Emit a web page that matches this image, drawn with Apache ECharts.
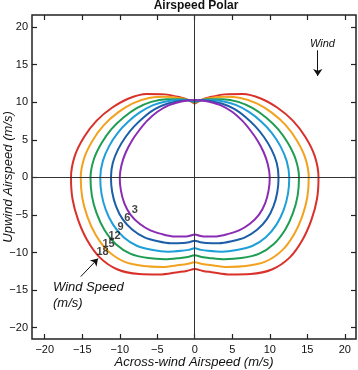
<!DOCTYPE html>
<html>
<head>
<meta charset="utf-8">
<script src="https://cdn.jsdelivr.net/npm/echarts@6/dist/echarts.min.js"></script>
<style>
  html, body { margin: 0; padding: 0; background: #fff; }
  #chart { width: 358px; height: 370px; }
</style>
</head>
<body>
<div id="chart"></div>
<script>
// wind speeds (m/s) and the colour of each curve
var windSpeeds = [3, 6, 9, 12, 15, 18];
var colors = ["#8a2cb4", "#1c5ea8", "#1f9fd9", "#1f9d52", "#f3a21f", "#d9312a"];

// polar reading of each curve: angle from the upwind axis (deg), airspeed (m/s)
var angles = [0, 5, 10, 20, 30, 40, 50, 60, 70, 80, 90, 100, 110, 120, 130, 140, 150, 160, 170, 175, 180];
var r3  = [10.3, 10.28, 10.25, 10.2, 10.05, 9.85, 9.7, 9.7, 9.78, 9.9, 10.0, 10.0, 10.0, 9.9, 9.6, 9.2, 8.72, 8.36, 8.0, 7.8, 7.6];
var r6  = [10.21, 10.29, 10.35, 10.45, 10.52, 10.5, 10.55, 10.68, 10.88, 11.1, 11.17, 11.18, 11.18, 11.11, 10.85, 10.42, 9.82, 9.33, 8.86, 8.65, 8.43];
var r9  = [10.1, 10.31, 10.46, 10.78, 11.1, 11.32, 11.55, 11.85, 12.15, 12.45, 12.6, 12.62, 12.62, 12.58, 12.38, 11.92, 11.17, 10.52, 9.92, 9.68, 9.44];
var r12 = [10.0, 10.32, 10.56, 11.06, 11.6, 12.03, 12.4, 12.83, 13.24, 13.67, 13.9, 13.93, 13.93, 13.92, 13.77, 13.28, 12.4, 11.59, 10.88, 10.62, 10.36];
var r15 = [9.9, 10.34, 10.68, 11.41, 12.2, 12.86, 13.4, 13.96, 14.47, 14.96, 15.2, 15.24, 15.24, 15.26, 15.16, 14.64, 13.62, 12.67, 11.84, 11.56, 11.28];
var r18 = [9.8, 10.35, 10.8, 11.75, 12.8, 13.7, 14.4, 15.1, 15.7, 16.25, 16.5, 16.55, 16.55, 16.6, 16.55, 16.0, 14.85, 13.75, 12.8, 12.5, 12.2];
var radii = [r3, r6, r9, r12, r15, r18];

var tickValues = [-20, -15, -10, -5, 0, 5, 10, 15, 20];

// where the wind speed numbers sit on the curves
var labelSpots = [[-8.0, -4.4], [-9.0, -5.45], [-9.9, -6.6], [-10.7, -7.75], [-11.5, -8.9], [-12.3, -9.95]];

var FONT = "Liberation Sans";

// closed loop: right half top->bottom, then mirrored left half bottom->top
function curve(r) {
  var pts = [];
  for (var i = 0; i < angles.length; i++) {
    var a = angles[i] * Math.PI / 180;
    pts.push([r[i] * Math.sin(a), r[i] * Math.cos(a)]);
  }
  for (var j = angles.length - 1; j >= 0; j--) {
    var b = angles[j] * Math.PI / 180;
    pts.push([-r[j] * Math.sin(b), r[j] * Math.cos(b)]);
  }
  return pts;
}

function minus(v) {
  return String(v).replace("-", "\u2212");
}

var chartDom = document.getElementById("chart");
var myChart = echarts.init(chartDom);
var option;

var series = [];
for (var k = windSpeeds.length - 1; k >= 0; k--) {
  series.push({
    name: String(windSpeeds[k]),
    type: "line",
    data: curve(radii[k]),
    smooth: 0.3,
    showSymbol: false,
    lineStyle: { color: colors[k], width: 2 },
    z: 3,
  });
}

// zero lines and arrows
series.push({
  type: "line",
  data: [],
  markLine: {
    silent: true,
    symbol: "none",
    label: { show: false },
    lineStyle: { color: "#333", width: 1, type: "solid" },
    data: [{ xAxis: 0 }, { yAxis: 0 }],
  },
  z: 2,
});
series.push({
  type: "line",
  data: [],
  markLine: {
    silent: true,
    symbol: ["none", "arrow"],
    symbolSize: 7,
    label: { show: false },
    lineStyle: { color: "#111", width: 1, type: "solid" },
    data: [
      [{ coord: [-15.2, -13.2] }, { coord: [-12.9, -10.8] }],
      [{ coord: [16.4, 16.9] }, { coord: [16.4, 13.5] }],
    ],
  },
  z: 4,
});

// wind speed numbers
series.push({
  type: "scatter",
  symbolSize: 0,
  data: labelSpots.map(function (p, i) { return [p[0], p[1], windSpeeds[i]]; }),
  label: {
    show: true,
    position: "inside",
    formatter: function (p) { return p.value[2]; },
    color: "#111",
    fontFamily: FONT,
    fontWeight: "bold",
    fontSize: 11,
  },
  z: 5,
});

function xAxisDef(pos, labels) {
  return {
    type: "value",
    position: pos,
    min: -21.7,
    max: 21.5,
    name: labels ? "Across-wind Airspeed (m/s)" : "",
    nameLocation: "middle",
    nameGap: 17,
    nameMoveOverlap: false,
    nameTextStyle: { fontFamily: FONT, fontStyle: "italic", fontSize: 13, color: "#111" },
    axisLine: { show: false, onZero: false },
    axisTick: { show: true, inside: true, length: 5, customValues: tickValues, lineStyle: { color: "#222", width: 1.2 } },
    axisLabel: {
      show: labels,
      customValues: tickValues,
      formatter: minus,
      fontFamily: FONT,
      fontSize: 11,
      color: "#111",
      margin: 5,
    },
    splitLine: { show: false },
  };
}

function yAxisDef(pos, labels) {
  return {
    type: "value",
    position: pos,
    min: -21.5,
    max: 21.6,
    name: labels ? "Upwind Airspeed (m/s)" : "",
    nameLocation: "middle",
    nameGap: 17,
    nameMoveOverlap: false,
    nameTextStyle: { fontFamily: FONT, fontStyle: "italic", fontSize: 13, color: "#111" },
    axisLine: { show: false, onZero: false },
    axisTick: { show: true, inside: true, length: 5, customValues: tickValues, lineStyle: { color: "#222", width: 1.2 } },
    axisLabel: {
      show: labels,
      customValues: tickValues,
      formatter: minus,
      fontFamily: FONT,
      fontSize: 11,
      color: "#111",
      margin: 4,
    },
    splitLine: { show: false },
  };
}

option = {
  animation: false,
  backgroundColor: "#fff",
  grid: {
    left: 32,
    right: 2,
    top: 15,
    bottom: 31,
    containLabel: false,
    outerBoundsMode: "none",
    show: true,
    borderColor: "#222",
    borderWidth: 1.5,
    backgroundColor: "transparent",
  },
  title: {
    text: "Airspeed Polar",
    left: 191,
    top: -5,
    textAlign: "center",
    textStyle: { fontFamily: FONT, fontWeight: "bold", fontSize: 12, color: "#111" },
  },
  xAxis: [xAxisDef("bottom", true), xAxisDef("top", false)],
  yAxis: [yAxisDef("left", true), yAxisDef("right", false)],
  graphic: [
    { type: "text", left: 310, top: 38, style: { text: "Wind", fontFamily: FONT, fontStyle: "italic", fontSize: 11, fill: "#111" } },
    { type: "text", left: 53, top: 279, style: { text: "Wind Speed\n(m/s)", fontFamily: FONT, fontStyle: "italic", fontSize: 13, lineHeight: 16, fill: "#111" } },
  ],
  series: series,
};

option && myChart.setOption(option);
</script>
</body>
</html>
